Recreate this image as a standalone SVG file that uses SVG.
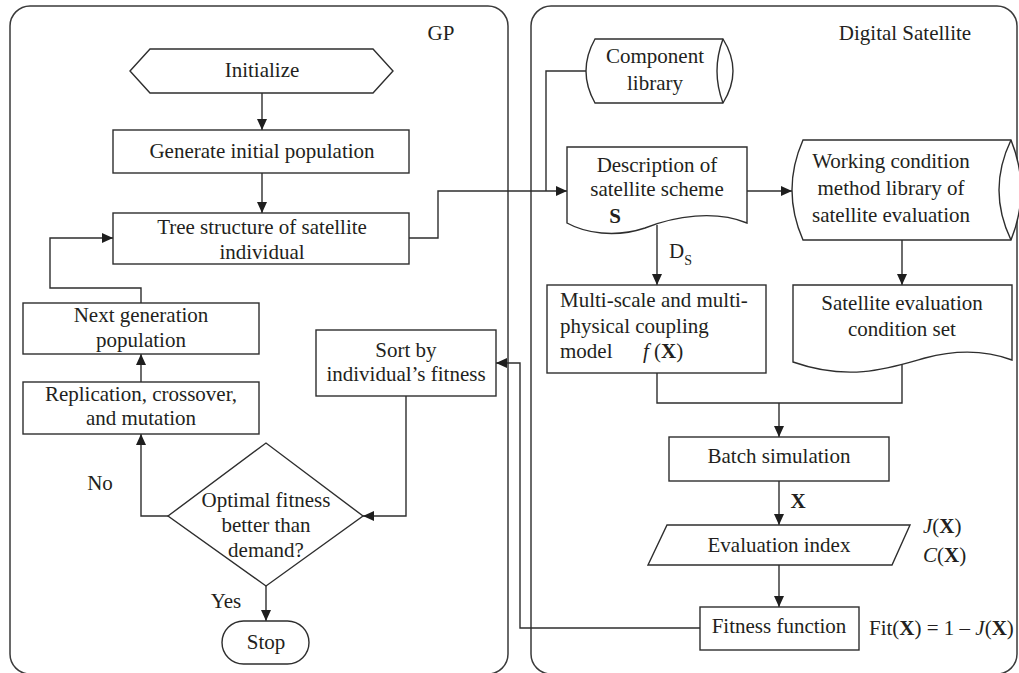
<svg xmlns="http://www.w3.org/2000/svg" width="1019" height="673" viewBox="0 0 1019 673">
<style>
  .s{fill:#fff;stroke:#2e2e2e;stroke-width:1.4}
  .p{fill:none;stroke:#3a3a3a;stroke-width:1.5}
  .c{fill:none;stroke:#2e2e2e;stroke-width:1.4}
  text{font-family:"Liberation Serif","Times New Roman",serif;font-size:21px;fill:#231f20}
  .m{text-anchor:middle}
  .b{font-weight:bold}
  .i{font-style:italic}
</style>
<defs>
  <marker id="ah" markerUnits="userSpaceOnUse" markerWidth="12" markerHeight="10" refX="11" refY="5" orient="auto">
    <path d="M0,0 L11,5 L0,10 Z" fill="#1e1e1e"/>
  </marker>
</defs>
<rect width="1019" height="673" fill="#fff"/>
<g id="panels">
  <rect class="p" x="10" y="6" width="498" height="668" rx="20"/>
  <rect class="p" x="531" y="6" width="486" height="668" rx="20"/>
  <text class="m" x="441" y="40">GP</text>
  <text class="m" x="905" y="40">Digital Satellite</text>
</g>
<g id="connectors">
  <path class="c" d="M262,93 V130" marker-end="url(#ah)"/>
  <path class="c" d="M262,173 V213" marker-end="url(#ah)"/>
  <path class="c" d="M409,238 H438 V191 H567" marker-end="url(#ah)"/>
  <path class="c" d="M587,71 H546 V191"/>
  <path class="c" d="M747,191 H792" marker-end="url(#ah)"/>
  <path class="c" d="M657,225 V285" marker-end="url(#ah)"/>
  <path class="c" d="M902,240 V285" marker-end="url(#ah)"/>
  <path class="c" d="M657,373 V403 H902 V363"/>
  <path class="c" d="M779,403 V437" marker-end="url(#ah)"/>
  <path class="c" d="M779,481 V525" marker-end="url(#ah)"/>
  <path class="c" d="M779,565 V607" marker-end="url(#ah)"/>
  <path class="c" d="M700,628 H520 V363 H496" marker-end="url(#ah)"/>
  <path class="c" d="M406,396 V516 H363" marker-end="url(#ah)"/>
  <path class="c" d="M168,516 H141 V434" marker-end="url(#ah)"/>
  <path class="c" d="M141,382 V354" marker-end="url(#ah)"/>
  <path class="c" d="M141,303 V288 H50 V238 H113" marker-end="url(#ah)"/>
  <path class="c" d="M266,586 V621" marker-end="url(#ah)"/>
  <text class="m" x="100" y="490">No</text>
  <text class="m" x="226" y="608">Yes</text>
  <text x="669" y="258">D<tspan font-size="14" dy="7">S</tspan></text>
  <text class="m b" x="798" y="508">X</text>
</g>
<g id="initialize">
  <polygon class="s" points="130,71 150,49 373,49 393,71 373,93 150,93"/>
  <text class="m" x="262" y="77">Initialize</text>
</g>
<g id="generate">
  <rect class="s" x="113" y="130" width="296" height="43"/>
  <text class="m" x="262" y="158">Generate initial population</text>
</g>
<g id="tree">
  <rect class="s" x="113" y="213" width="296" height="51"/>
  <text class="m" x="262" y="234">Tree structure of satellite</text>
  <text class="m" x="262" y="259">individual</text>
</g>
<g id="nextgen">
  <rect class="s" x="23" y="303" width="236" height="51"/>
  <text class="m" x="141" y="322">Next generation</text>
  <text class="m" x="141" y="347">population</text>
</g>
<g id="replication">
  <rect class="s" x="23" y="382" width="236" height="52"/>
  <text class="m" x="141" y="401">Replication, crossover,</text>
  <text class="m" x="141" y="425">and mutation</text>
</g>
<g id="decision">
  <polygon class="s" points="168,516 266,443 363,516 266,586"/>
  <text class="m" x="266" y="507">Optimal fitness</text>
  <text class="m" x="266" y="532">better than</text>
  <text class="m" x="266" y="557">demand?</text>
</g>
<g id="stop">
  <rect class="s" x="222" y="621" width="87" height="43" rx="21.5"/>
  <text class="m" x="266" y="649">Stop</text>
</g>
<g id="sort">
  <rect class="s" x="316" y="330" width="180" height="66"/>
  <text class="m" x="406" y="357">Sort by</text>
  <text class="m" x="406" y="381">individual’s fitness</text>
</g>
<g id="component">
  <path class="s" d="M595,39 H723 Q743,71 723,103 H595 Q577,71 595,39 Z"/>
  <path class="c" d="M723,39 Q711,71 723,103"/>
  <text class="m" x="655" y="63">Component</text>
  <text class="m" x="655" y="90">library</text>
</g>
<g id="description">
  <path class="s" d="M567,147 H747 V223 C715,210 675,216 645,228 C615,238 585,233 567,223 Z"/>
  <text class="m" x="657" y="172">Description of</text>
  <text class="m" x="657" y="196">satellite scheme</text>
  <text class="m b" x="615" y="223">S</text>
</g>
<g id="working">
  <path class="s" d="M803,140 H1011 Q1031,190 1011,240 H803 Q781,190 803,140 Z"/>
  <path class="c" d="M1011,140 Q987,190 1011,240"/>
  <text class="m" x="891" y="168">Working condition</text>
  <text class="m" x="891" y="195">method library of</text>
  <text class="m" x="891" y="222">satellite evaluation</text>
</g>
<g id="multiscale">
  <rect class="s" x="547" y="285" width="219" height="88"/>
  <text x="560" y="307">Multi-scale and multi-</text>
  <text x="560" y="333">physical coupling</text>
  <text x="560" y="358">model</text>
  <text x="643" y="358"><tspan class="i">f</tspan> (<tspan class="b">X</tspan>)</text>
</g>
<g id="conditionset">
  <path class="s" d="M793,285 H1012 V360 C985,350 955,350 925,358 C890,368 850,382 793,362 Z"/>
  <text class="m" x="902" y="310">Satellite evaluation</text>
  <text class="m" x="902" y="336">condition set</text>
</g>
<g id="batch">
  <rect class="s" x="669" y="437" width="220" height="44"/>
  <text class="m" x="779" y="463">Batch simulation</text>
</g>
<g id="evalindex">
  <polygon class="s" points="667,525 910,525 892,565 648,565"/>
  <text class="m" x="779" y="552">Evaluation index</text>
  <text x="923" y="533"><tspan class="i">J</tspan>(<tspan class="b">X</tspan>)</text>
  <text x="923" y="562"><tspan class="i">C</tspan>(<tspan class="b">X</tspan>)</text>
</g>
<g id="fitness">
  <rect class="s" x="700" y="607" width="159" height="43"/>
  <text class="m" x="779" y="633">Fitness function</text>
  <text x="869" y="635">Fit(<tspan class="b">X</tspan>) = 1 – <tspan class="i">J</tspan>(<tspan class="b">X</tspan>)</text>
</g>
</svg>
